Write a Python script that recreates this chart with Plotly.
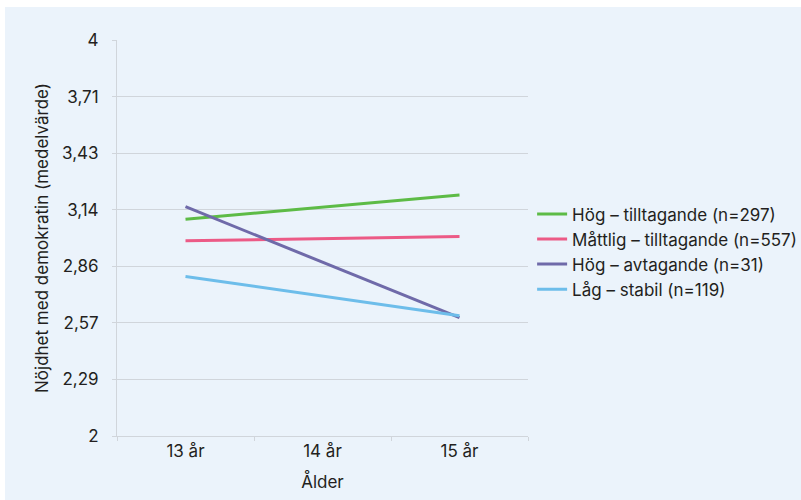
import plotly.graph_objects as go

categories = ["13 år", "14 år", "15 år"]
series_names = [
    "Hög – tilltagande (n=297)",
    "Måttlig – tilltagande (n=557)",
    "Hög – avtagande (n=31)",
    "Låg – stabil (n=119)",
]
hog_tillt = [3.095, None, 3.217]
mattlig_tillt = [2.986, None, 3.008]
hog_avt = [3.158, None, 2.598]
lag_stabil = [2.806, None, 2.607]
series_values = [hog_tillt, mattlig_tillt, hog_avt, lag_stabil]
colors = ["#5DBB46", "#EC5A86", "#6F6AA9", "#6DBDEA"]

y_tick_vals = [2, 2 + 2/7, 2 + 4/7, 2 + 6/7, 2 + 8/7, 2 + 10/7, 2 + 12/7, 4]
y_tick_text = ["2", "2,29", "2,57", "2,86", "3,14", "3,43", "3,71", "4"]

FONT = "Inter, Liberation Sans, Arial, sans-serif"
TXT = "#231F20"

fig = go.Figure()
for i, (name, vals, col) in enumerate(zip(series_names, series_values, colors)):
    fig.add_trace(go.Scatter(
        x=categories, y=vals, name=name, mode="lines",
        line=dict(color=col, width=3), connectgaps=True,
        legendgroup=f"g{i}",
    ))

L, R, T, B = 117, 528, 40, 436
W, H = 801, 500
pw, ph = R - L, B - T

fig.add_shape(type="rect", xref="paper", yref="paper",
              x0=(5 - L) / pw, x1=(W - L) / pw,
              y0=(B - H) / ph, y1=(B - 7) / ph,
              fillcolor="#EBF3FB", line=dict(width=0), layer="below")

fig.update_layout(
    width=W, height=H,
    margin=dict(l=L, r=W - R, t=T, b=H - B, pad=0, autoexpand=False),
    paper_bgcolor="white", plot_bgcolor="rgba(0,0,0,0)",
    font=dict(family=FONT, size=17, color=TXT),
    showlegend=True,
    legend=dict(x=1.01, y=0.465, xanchor="left", yanchor="middle",
                bgcolor="rgba(0,0,0,0)", font=dict(size=17, color=TXT),
                tracegroupgap=0, itemwidth=30),
    xaxis=dict(
        type="category", range=[-0.5, 2.5], tickson="boundaries",
        showgrid=False, showline=True, linecolor="#D0D5DB", linewidth=1,
        ticks="outside", ticklen=4, tickcolor="#D0D5DB",
        title=dict(text="Ålder", font=dict(size=17), standoff=15),
        zeroline=False,
    ),
    yaxis=dict(
        range=[2, 4], tickvals=y_tick_vals, ticktext=y_tick_text,
        showgrid=True, gridcolor="#D0D5DB", gridwidth=1,
        showline=True, linecolor="#D0D5DB", linewidth=1,
        ticks="outside", ticklen=4, tickcolor="#D0D5DB",
        ticklabelstandoff=10,
        title=dict(text="Nöjdhet med demokratin (medelvärde)", font=dict(size=17), standoff=9),
        zeroline=False,
    ),
)

fig.write_html("out.html", config={"displayModeBar": False},
               post_script="document.body.style.margin='0px';")
